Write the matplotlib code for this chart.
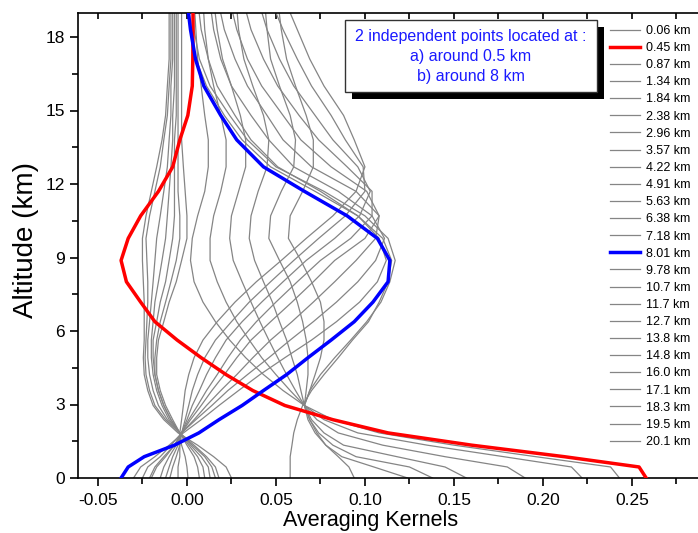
import matplotlib
matplotlib.use("Agg")
import matplotlib.pyplot as plt
from matplotlib.patches import Rectangle

plt.rcParams["font.family"] = ["Liberation Sans", "DejaVu Sans"]

# altitude grid of the kernels (km)
altitude = [0.0, 0.45, 0.87, 1.34, 1.84, 2.38, 2.96, 3.57, 4.22, 4.91, 5.63, 6.38, 7.18,
            8.01, 8.88, 9.78, 10.7, 11.7, 12.7, 13.8, 14.8, 16.0, 17.1, 18.3, 19.5]

# legend labels, one per kernel row
levels = ["0.06", "0.45", "0.87", "1.34", "1.84", "2.38", "2.96", "3.57", "4.22", "4.91",
          "5.63", "6.38", "7.18", "8.01", "9.78", "10.7", "11.7", "12.7", "13.8", "14.8",
          "16.0", "17.1", "18.3", "19.5", "20.1"]

# averaging kernel rows (values at each altitude of the grid)
ak_006 = [0.243, 0.238, 0.196, 0.150, 0.108, 0.082, 0.066, 0.054, 0.043, 0.033, 0.024, 0.016, 0.009,
          0.004, 0.002, 0.003, 0.006, 0.010, 0.012, 0.012, 0.010, 0.008, 0.006, 0.005, 0.004]
ak_045 = [0.258, 0.254, 0.212, 0.160, 0.113, 0.082, 0.055, 0.037, 0.022, 0.008, -0.0055, -0.018, -0.026,
          -0.034, -0.037, -0.033, -0.026, -0.016, -0.008, -0.004, 0.0005, 0.003, 0.0033, 0.0034, 0.0034]
ak_087 = [0.222, 0.216, 0.178, 0.135, 0.096, 0.077, 0.066, 0.058, 0.050, 0.042, 0.035, 0.028, 0.022,
          0.017, 0.013, 0.013, 0.015, 0.019, 0.022, 0.022, 0.019, 0.015, 0.012, 0.010, 0.009]
ak_134 = [0.190, 0.180, 0.145, 0.110, 0.085, 0.073, 0.066, 0.061, 0.056, 0.051, 0.046, 0.041, 0.036,
          0.031, 0.026, 0.024, 0.025, 0.029, 0.033, 0.033, 0.030, 0.025, 0.020, 0.017, 0.015]
ak_184 = [0.157, 0.145, 0.118, 0.088, 0.077, 0.070, 0.066, 0.064, 0.062, 0.059, 0.056, 0.052, 0.048,
          0.043, 0.038, 0.035, 0.036, 0.040, 0.045, 0.046, 0.043, 0.037, 0.032, 0.029, 0.0277]
ak_238 = [0.138, 0.125, 0.095, 0.082, 0.074, 0.069, 0.066, 0.067, 0.068, 0.068, 0.067, 0.065, 0.062,
          0.058, 0.052, 0.046, 0.047, 0.053, 0.060, 0.061, 0.058, 0.052, 0.047, 0.045, 0.0436]
ak_296 = [0.124, 0.105, 0.087, 0.078, 0.072, 0.068, 0.066, 0.069, 0.072, 0.075, 0.077, 0.077, 0.075,
          0.070, 0.064, 0.057, 0.058, 0.065, 0.071, 0.071, 0.067, 0.061, 0.056, 0.053, 0.051]
ak_357 = [0.094, 0.091, 0.085, 0.078, 0.073, 0.069, 0.066, 0.069, 0.075, 0.083, 0.092, 0.101, 0.109,
          0.114, 0.117, 0.113, 0.100, 0.077, 0.050, 0.034, 0.024, 0.013, 0.007, 0.004, 0.003]
ak_422 = [0.058, 0.058, 0.058, 0.059, 0.060, 0.062, 0.065, 0.070, 0.077, 0.085, 0.093, 0.102, 0.108,
          0.113, 0.115, 0.110, 0.096, 0.072, 0.047, 0.031, 0.021, 0.011, 0.005, 0.002, 0.001]
ak_491 = [0.0006, 0.0, -0.001, -0.003, -0.004, -0.008, -0.012, -0.015, -0.017, -0.017, -0.016, -0.013, -0.010,
          -0.006, -0.003, 0.000, 0.000, -0.001, -0.002, -0.003, -0.003, -0.003, -0.003, -0.003, -0.003]
ak_563 = [0.007, 0.006, 0.004, 0.000, -0.004, -0.009, -0.013, -0.016, -0.018, -0.018, -0.017, -0.015, -0.012,
          -0.009, -0.006, -0.004, -0.004, -0.005, -0.005, -0.005, -0.005, -0.005, -0.005, -0.005, -0.005]
ak_638 = [0.010, 0.009, 0.006, 0.001, -0.004, -0.009, -0.013, -0.016, -0.018, -0.019, -0.019, -0.017, -0.015,
          -0.012, -0.010, -0.008, -0.007, -0.007, -0.007, -0.007, -0.006, -0.006, -0.006, -0.006, -0.006]
ak_718 = [0.013, 0.012, 0.008, 0.002, -0.004, -0.010, -0.014, -0.017, -0.019, -0.020, -0.020, -0.019, -0.018,
          -0.016, -0.014, -0.012, -0.011, -0.010, -0.009, -0.008, -0.008, -0.007, -0.007, -0.007, -0.007]
ak_801 = [-0.037, -0.033, -0.024, -0.007, 0.0067, 0.018, 0.031, 0.043, 0.056, 0.068, 0.081, 0.094, 0.1045,
          0.113, 0.114, 0.107, 0.090, 0.066, 0.043, 0.028, 0.019, 0.0095, 0.0048, 0.002, 0.0]
ak_978 = [-0.030, -0.026, -0.018, -0.010, -0.002, 0.008, 0.018, 0.029, 0.041, 0.055, 0.070, 0.084, 0.097,
          0.107, 0.112, 0.108, 0.096, 0.075, 0.051, 0.036, 0.027, 0.017, 0.012, 0.008, 0.006]
ak_107 = [-0.025, -0.022, -0.015, -0.009, -0.003, 0.005, 0.014, 0.023, 0.034, 0.046, 0.058, 0.071, 0.084,
          0.096, 0.106, 0.111, 0.104, 0.085, 0.060, 0.046, 0.036, 0.025, 0.019, 0.015, 0.0128]
ak_117 = [-0.021, -0.018, -0.013, -0.007, -0.003, 0.004, 0.011, 0.019, 0.028, 0.037, 0.047, 0.059, 0.071,
          0.083, 0.095, 0.106, 0.108, 0.095, 0.070, 0.054, 0.045, 0.034, 0.027, 0.021, 0.0174]
ak_127 = [-0.020, -0.017, -0.012, -0.007, -0.003, 0.002, 0.008, 0.014, 0.021, 0.028, 0.036, 0.047, 0.059,
          0.071, 0.083, 0.100, 0.108, 0.101, 0.081, 0.064, 0.054, 0.042, 0.034, 0.028, 0.024]
ak_138 = [-0.015, -0.013, -0.010, -0.006, -0.003, 0.001, 0.006, 0.011, 0.017, 0.023, 0.030, 0.039, 0.050,
          0.062, 0.075, 0.092, 0.104, 0.104, 0.090, 0.074, 0.063, 0.051, 0.043, 0.036, 0.0315]
ak_148 = [-0.012, -0.010, -0.008, -0.005, -0.003, 0.000, 0.003, 0.007, 0.011, 0.016, 0.022, 0.031, 0.042,
          0.054, 0.067, 0.083, 0.097, 0.103, 0.096, 0.082, 0.072, 0.060, 0.052, 0.045, 0.040]
ak_160 = [-0.0096, -0.008, -0.006, -0.004, -0.003, -0.001, 0.001, 0.003, 0.006, 0.010, 0.016, 0.025, 0.035,
          0.047, 0.060, 0.074, 0.089, 0.100, 0.099, 0.089, 0.081, 0.070, 0.062, 0.054, 0.047]
ak_171 = [-0.005, -0.005, -0.004, -0.004, -0.004, -0.003, -0.002, -0.001, 0.001, 0.004, 0.009, 0.017, 0.027,
          0.039, 0.053, 0.067, 0.082, 0.095, 0.100, 0.094, 0.088, 0.077, 0.069, 0.062, 0.055]
ak_183 = [0.016, 0.014, 0.010, 0.003, -0.004, -0.011, -0.016, -0.019, -0.021, -0.022, -0.022, -0.021, -0.020,
          -0.019, -0.018, -0.017, -0.015, -0.013, -0.011, -0.010, -0.009, -0.009, -0.008, -0.008, -0.008]
ak_195 = [0.018, 0.016, 0.011, 0.004, -0.004, -0.012, -0.018, -0.021, -0.023, -0.0235, -0.023, -0.0225, -0.022,
          -0.022, -0.0225, -0.023, -0.021, -0.018, -0.015, -0.013, -0.011, -0.010, -0.009, -0.009, -0.009]
ak_201 = [0.025, 0.022, 0.015, 0.006, -0.005, -0.013, -0.019, -0.022, -0.024, -0.0245, -0.024, -0.024, -0.024,
          -0.0245, -0.025, -0.025, -0.023, -0.020, -0.017, -0.014, -0.012, -0.011, -0.010, -0.010, -0.010]

kernel_rows = [ak_006, ak_045, ak_087, ak_134, ak_184, ak_238, ak_296, ak_357, ak_422, ak_491,
               ak_563, ak_638, ak_718, ak_801, ak_978, ak_107, ak_117, ak_127, ak_138, ak_148,
               ak_160, ak_171, ak_183, ak_195, ak_201]

# highlighted rows
highlight = {"0.45": ("#ff0000", 2.5), "8.01": ("#0000ff", 2.5)}

W, H = 698, 533
fig = plt.figure(figsize=(W / 100, H / 100), dpi=100)
ax = fig.add_axes([78 / W, 55 / H, 625 / W, 465.5 / H])

for lab, row in zip(levels, kernel_rows):
    if lab in highlight:
        col, lw = highlight[lab]
        ax.plot(row, altitude, color=col, lw=lw, zorder=3, label=lab + " km")
    else:
        ax.plot(row, altitude, color="#858585", lw=0.9, zorder=2, label=lab + " km")

ax.set_xlim(-0.0612, -0.0612 + 625 / 1780)
ax.set_ylim(0, 19)
ax.set_xticks([-0.05, 0.0, 0.05, 0.10, 0.15, 0.20, 0.25])
ax.set_xticklabels(["-0.05", "0.00", "0.05", "0.10", "0.15", "0.20", "0.25"])
ax.set_xticks([-0.025, 0.025, 0.075, 0.125, 0.175, 0.225, 0.275], minor=True)
ax.set_yticks([0, 3, 6, 9, 12, 15, 18])
ax.set_yticks([1.5, 4.5, 7.5, 10.5, 13.5, 16.5], minor=True)
ax.tick_params(which="major", direction="out", length=6, width=1.2, labelsize=12.5)
ax.tick_params(which="minor", direction="out", length=4, width=1.2)
ax.tick_params(axis="x", which="major", pad=5)
ax.tick_params(axis="x", top=True, which="both")
for t in ax.xaxis.get_major_ticks() + ax.xaxis.get_minor_ticks():
    t.tick2line.set_marker(3)  # top ticks point down into the plot
    t.tick2line.set_markersize(4)
ax.spines["right"].set_visible(False)
for s in ("left", "bottom", "top"):
    ax.spines[s].set_linewidth(1.2)

ax.set_xlabel("Averaging Kernels", fontsize=15.5)
ax.xaxis.set_label_coords((371 - 78) / 625, -(526 - 478) / 465.5)
ax.xaxis.label.set_va("baseline")
ax.set_ylabel("Altitude (km)", fontsize=20)
ax.yaxis.label.set_va("center")
ax.yaxis.set_label_coords(-(78 - 26) / 625, (478 - 240) / 465.5)

leg = ax.legend(loc="upper left", bbox_to_anchor=(610 / W, 1 - 25 / H), bbox_transform=fig.transFigure,
                frameon=False, fontsize=9, handlelength=2.4, handletextpad=0.45,
                labelspacing=0.41, borderpad=0, borderaxespad=0)
leg.set_zorder(6)

# annotation box with a drop shadow
bx0, by0, bx1, by1 = 345, 20, 597, 92
ax.add_patch(Rectangle(((bx0 + 7) / W, 1 - (by1 + 7) / H), (bx1 - bx0) / W, (by1 - by0) / H,
                       transform=fig.transFigure, facecolor="black", edgecolor="none",
                       zorder=7, clip_on=False))
ax.add_patch(Rectangle((bx0 / W, 1 - by1 / H), (bx1 - bx0) / W, (by1 - by0) / H,
                       transform=fig.transFigure, facecolor="white", edgecolor="#333333", lw=1,
                       zorder=8, clip_on=False))
note = ["2 independent points located at :", "a) around 0.5 km", "b) around 8 km"]
for i, line in enumerate(note):
    fig.text(471 / W, 1 - (37 + 20 * i) / H, line, ha="center", va="center", color="#1a1aff",
             fontsize=11.5, zorder=9)

fig.savefig("out.png", dpi=100)
